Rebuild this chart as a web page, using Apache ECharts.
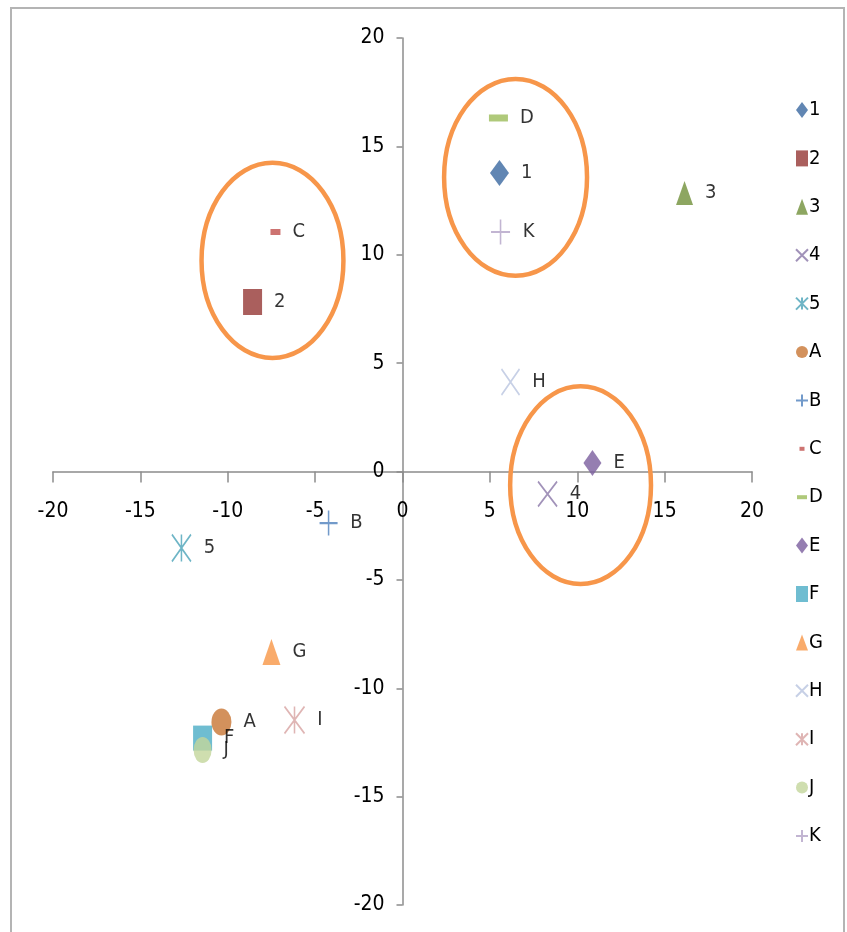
<!DOCTYPE html>
<html>
<head>
<meta charset="utf-8">
<script src="https://cdn.jsdelivr.net/npm/echarts@6/dist/echarts.min.js"></script>
<style>
  html, body { margin: 0; padding: 0; background: #fff; }
  #chart { width: 847px; height: 932px; }
</style>
</head>
<body>
<div id="chart"></div>
<script>
// Point names (legend order)
const names = ['1', '2', '3', '4', '5', 'A', 'B', 'C', 'D', 'E', 'F', 'G', 'H', 'I', 'J', 'K'];
// X and Y coordinates of each point
const xValues = [5.55, -8.58, 16.14, 8.30, -12.65, -10.36, -4.23, -7.27, 5.49, 10.87, -11.44, -7.50, 6.18, -6.18, -11.44, 5.61];
const yValues = [13.77, 7.82, 12.85, -1.04, -3.53, -11.56, -2.38, 11.05, 16.31, 0.39, -12.30, -8.33, 4.13, -11.46, -12.85, 11.05];
// Axis ticks
const axisMin = -20, axisMax = 20, axisStep = 5;
// Highlight ellipses: centre x, centre y, radius x, radius y (data units)
const ellipseCx = [-7.44, 6.47, 10.19];
const ellipseCy = [9.74, 13.57, -0.63];
const ellipseRx = [4.06, 4.09, 4.03];
const ellipseRy = [4.50, 4.54, 4.56];

const FONT = "'Liberation Sans Narrow', 'DejaVu Sans Condensed', 'Liberation Sans', sans-serif";

const PLUS = 'path://M5,0 L5,10 M0,5 L10,5';
const CROSS = 'path://M0,0 L10,10 M10,0 L0,10';
const STAR = 'path://M0,0 L10,10 M10,0 L0,10 M5,0 L5,10';

// Marker style for each point
const styles = [
  { symbol: 'diamond',  size: [19, 26], color: '#3a68a0', stroke: false },
  { symbol: 'rect',     size: [19, 26], color: '#953735', stroke: false },
  { symbol: 'triangle', size: [17, 24], color: '#71903a', stroke: false },
  { symbol: CROSS,      size: [19, 25], color: '#8a77a8', stroke: true },
  { symbol: STAR,       size: [19, 27], color: '#4aa3b8', stroke: true },
  { symbol: 'circle',   size: [20, 27], color: '#c87533', stroke: false },
  { symbol: PLUS,       size: [18, 25], color: '#4f81bd', stroke: true },
  { symbol: 'rect',     size: [10, 6],  color: '#c0504d', stroke: false },
  { symbol: 'rect',     size: [19, 7],  color: '#9bbb59', stroke: false },
  { symbol: 'diamond',  size: [18, 26], color: '#7b5e9e', stroke: false },
  { symbol: 'rect',     size: [19, 25], color: '#4bacc6', stroke: false },
  { symbol: 'triangle', size: [18, 26], color: '#f79646', stroke: false },
  { symbol: CROSS,      size: [18, 26], color: '#b9c4e0', stroke: true },
  { symbol: STAR,       size: [20, 27], color: '#d7a2a1', stroke: true },
  { symbol: 'circle',   size: [18, 26], color: '#c3d69b', stroke: false },
  { symbol: PLUS,       size: [19, 25], color: '#b3a2c7', stroke: true }
];

// Legend icons: dash markers drawn small inside an invisible bounding box
const legendIcons = {
  'C': 'path://M0,0 M10,16 M2.5,6 h5 v4 h-5 z',
  'D': 'path://M0,0 M10,16 M0,6 h10 v4 h-10 z'
};

const series = names.map((n, i) => {
  const s = styles[i];
  return {
    name: n,
    type: 'scatter',
    symbol: s.symbol,
    symbolSize: s.size,
    itemStyle: s.stroke
      ? { color: s.color, borderColor: s.color, borderWidth: 1.8 }
      : { color: s.color },
    label: {
      show: true,
      position: 'right',
      distance: 12,
      formatter: n,
      color: '#000',
      fontFamily: FONT,
      fontSize: 20
    },
    emphasis: { disabled: true },
    data: [[xValues[i], yValues[i]]]
  };
});

const axisLineStyle = { color: '#8c8c8c', width: 1.5 };

const chart = echarts.init(document.getElementById('chart'));
chart.setOption({
  animation: false,
  backgroundColor: '#fff',
  grid: { left: 53, right: 95, top: 38, bottom: 27, outerBoundsMode: 'none', containLabel: false },
  xAxis: {
    type: 'value',
    min: axisMin, max: axisMax, interval: axisStep,
    axisLine: { onZero: false, lineStyle: axisLineStyle },
    axisTick: { show: true, length: 11, lineStyle: axisLineStyle },
    axisLabel: { margin: 30, color: '#000', fontFamily: FONT, fontSize: 21 },
    splitLine: { show: false }
  },
  yAxis: {
    type: 'value',
    min: axisMin, max: axisMax, interval: axisStep,
    axisLine: { onZero: false, lineStyle: axisLineStyle },
    axisTick: { show: true, length: 6, lineStyle: axisLineStyle },
    axisLabel: { margin: 18, color: '#000', fontFamily: FONT, fontSize: 21 },
    splitLine: { show: false }
  },
  legend: {
    orient: 'vertical',
    left: 790,
    top: 95,
    itemWidth: 12,
    itemHeight: 16,
    itemGap: 28.4,
    textStyle: { color: '#000', fontFamily: FONT, fontSize: 20, lineHeight: 20, padding: [0, 0, 0, -4] },
    selectedMode: false,
    data: names.map(n => legendIcons[n] ? { name: n, icon: legendIcons[n] } : { name: n })
  },
  series: series
});

// Move both axes (line, ticks and labels) so they cross at the origin
const origin = chart.convertToPixel({ gridIndex: 0 }, [0, 0]);
const corner = chart.convertToPixel({ gridIndex: 0 }, [axisMin, axisMin]);
chart.setOption({
  xAxis: { offset: -(corner[1] - origin[1]) },
  yAxis: { offset: -(origin[0] - corner[0]) }
});

// Chart frame and orange highlight ellipses, placed through the grid's coordinate system
const graphics = [{
  type: 'rect',
  shape: { x: 11, y: 8, width: 833, height: 960 },
  style: { fill: 'none', stroke: '#b4b4b4', lineWidth: 2 },
  silent: true,
  z: 0
}];
for (let i = 0; i < ellipseCx.length; i++) {
  const c = chart.convertToPixel({ gridIndex: 0 }, [ellipseCx[i], ellipseCy[i]]);
  const e = chart.convertToPixel({ gridIndex: 0 }, [ellipseCx[i] + ellipseRx[i], ellipseCy[i] + ellipseRy[i]]);
  graphics.push({
    type: 'ellipse',
    shape: { cx: c[0], cy: c[1], rx: Math.abs(e[0] - c[0]), ry: Math.abs(c[1] - e[1]) },
    style: { fill: 'none', stroke: '#f7964a', lineWidth: 4.5 },
    silent: true,
    z: 10
  });
}
chart.setOption({ graphic: graphics });
</script>
</body>
</html>
